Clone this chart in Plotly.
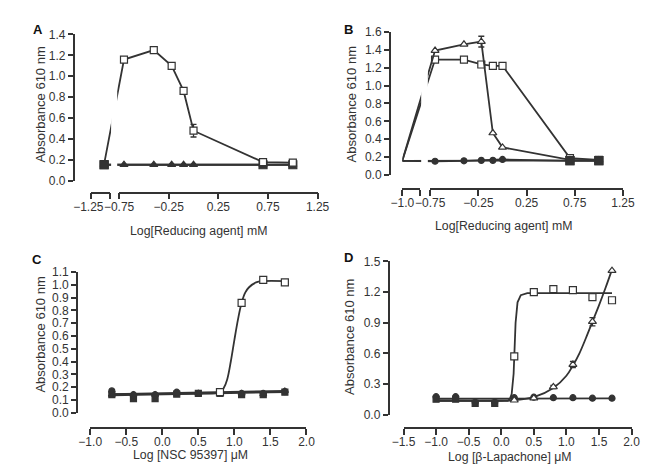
import plotly.graph_objects as go

W, H = 653, 474
INK = '#333333'
FONT = 'Liberation Sans, Arial, sans-serif'

# ---------------- data ----------------
# A: first value of each series is the untreated control (left, broken part of the axis)
a_x = [-0.90, -0.70, -0.40, -0.22, -0.10, 0.0, 0.70, 1.0]
a_sq = [0.16, 1.16, 1.25, 1.10, 0.86, 0.48, 0.18, 0.175]
a_sq_err = [0, 0, 0, 0, 0, 0.06, 0, 0]
a_tri = [0.155, 0.155, 0.155, 0.155, 0.155, 0.155, 0.155, 0.155]
a_fsq_x = [-0.90, 0.70, 1.0]
a_fsq = [0.155, 0.155, 0.155]

# B
b_x = [-1.04, -0.70, -0.40, -0.22, -0.10, 0.0, 0.70, 1.0]
b_tri = [0.16, 1.39, 1.46, 1.49, 0.47, 0.31, 0.17, 0.165]
b_tri_err = [0, 0, 0, 0.06, 0, 0, 0, 0]
b_sq = [0.16, 1.29, 1.29, 1.235, 1.22, 1.22, 0.19, 0.17]
b_circ = [0.16, 0.155, 0.16, 0.165, 0.165, 0.175, 0.16, 0.16]
b_fsq_x = [-1.04, 0.70, 1.0]
b_fsq = [0.16, 0.163, 0.163]

# C
c_x = [-0.7, -0.4, -0.1, 0.2, 0.5, 0.8, 1.1, 1.4, 1.7]
c_fsq = [0.14, 0.11, 0.11, 0.145, 0.15, 0.15, 0.14, 0.14, 0.16]
c_tri = [0.14, 0.14, 0.14, 0.15, 0.15, 0.15, 0.15, 0.145, 0.17]
c_circ = [0.17, 0.14, 0.14, 0.16, 0.15, 0.15, 0.15, 0.15, 0.165]
c_sq_x = [0.8, 1.1, 1.4, 1.7]
c_sq = [0.16, 0.86, 1.04, 1.02]
c_fit_x = [-0.7, 0.5, 0.8, 0.85, 0.9, 0.95, 1.0, 1.05, 1.1, 1.15, 1.2, 1.3, 1.4, 1.7]
c_fit_y = [0.145, 0.15, 0.16, 0.19, 0.26, 0.40, 0.57, 0.73, 0.86, 0.94, 0.98, 1.02, 1.03, 1.03]
c_flat_x = [-0.7, 1.7]
c_flat_y = [0.14, 0.165]

# D
d_x = [-1.0, -0.7, -0.4, -0.1, 0.2, 0.5, 0.8, 1.1, 1.4, 1.7]
d_circ = [0.175, 0.175, 0.12, 0.12, 0.165, 0.17, 0.165, 0.165, 0.16, 0.16]
d_fsq_x = [-1.0, -0.7, -0.4, -0.1]
d_fsq = [0.15, 0.15, 0.11, 0.11]
d_sq_x = [0.2, 0.5, 0.8, 1.1, 1.4, 1.7]
d_sq = [0.57, 1.20, 1.23, 1.22, 1.15, 1.12]
d_tri_x = [0.2, 0.5, 0.8, 1.1, 1.4, 1.7]
d_tri = [0.14, 0.16, 0.27, 0.49, 0.91, 1.41]
d_tri_err = [0, 0, 0.015, 0.03, 0.04, 0]
d_sqfit_x = [-1.0, 0.1, 0.13, 0.16, 0.19, 0.2, 0.22, 0.25, 0.3, 0.4, 1.7]
d_sqfit_y = [0.135, 0.135, 0.15, 0.2, 0.4, 0.57, 0.9, 1.1, 1.17, 1.19, 1.19]
d_trifit_x = [-1.0, 0.0, 0.2, 0.5, 0.8, 1.0, 1.1, 1.2, 1.3, 1.4, 1.5, 1.6, 1.7]
d_trifit_y = [0.135, 0.135, 0.14, 0.17, 0.26, 0.38, 0.48, 0.6, 0.75, 0.91, 1.07, 1.24, 1.42]
d_flat_x = [-1.0, 1.7]
d_flat_y = [0.155, 0.158]


def px(p):
    return p / W


def py(p):
    return 1 - p / H


fig = go.Figure()


def add(x, y, xa, ya, mode='lines+markers', symbol='square', fill=INK, size=7,
        lw=1.8, err=None, shape='linear'):
    fig.add_trace(go.Scatter(
        x=x, y=y, xaxis=xa, yaxis=ya, mode=mode, cliponaxis=False,
        line=dict(color=INK, width=lw, shape=shape),
        marker=dict(symbol=symbol, size=size, color=fill, line=dict(color=INK, width=1.2)),
        error_y=dict(type='data', array=err, color=INK, thickness=1.3, width=3) if err else None,
        showlegend=False, hoverinfo='skip'))


# A
add(a_x, a_tri, 'x', 'y', symbol='triangle-up', size=7)
add(a_fsq_x, a_fsq, 'x', 'y', symbol='square', size=8)
add(a_x, a_sq, 'x', 'y', symbol='square', fill='white', err=a_sq_err)
add(a_fsq_x[:1], a_fsq[:1], 'x', 'y', mode='markers', symbol='square', size=8)
# B
add(b_x, b_circ, 'x4', 'y2', symbol='circle', size=6)
add(b_fsq_x, b_fsq, 'x4', 'y2', symbol='square', size=8)
add(b_x, b_sq, 'x4', 'y2', symbol='square', fill='white')
add(b_x, b_tri, 'x4', 'y2', symbol='triangle-up', fill='white', err=b_tri_err)
add(b_fsq_x, b_fsq, 'x4', 'y2', mode='markers', symbol='square', size=8)
# C
add(c_flat_x, c_flat_y, 'x7', 'y3', mode='lines', lw=3)
add(c_fit_x, c_fit_y, 'x7', 'y3', mode='lines', shape='spline')
add(c_x, c_fsq, 'x7', 'y3', mode='markers', symbol='square', size=6)
add(c_x, c_tri, 'x7', 'y3', mode='markers', symbol='triangle-up', size=6)
add(c_x, c_circ, 'x7', 'y3', mode='markers', symbol='circle', size=6)
add(c_sq_x, c_sq, 'x7', 'y3', mode='markers', symbol='square', fill='white')
# D
add(d_flat_x, d_flat_y, 'x8', 'y4', mode='lines')
add(d_sqfit_x, d_sqfit_y, 'x8', 'y4', mode='lines')
add(d_trifit_x, d_trifit_y, 'x8', 'y4', mode='lines', shape='spline')
add(d_x, d_circ, 'x8', 'y4', mode='markers', symbol='circle', size=6)
add(d_fsq_x, d_fsq, 'x8', 'y4', mode='markers', symbol='square', size=6)
add(d_tri_x, d_tri, 'x8', 'y4', mode='markers', symbol='triangle-up', fill='white', err=d_tri_err)
add(d_sq_x, d_sq, 'x8', 'y4', mode='markers', symbol='square', fill='white')

# empty traces so the broken-axis pieces get drawn
for xa, ya in [('x2', 'y'), ('x3', 'y'), ('x5', 'y2'), ('x6', 'y2')]:
    fig.add_trace(go.Scatter(x=[], y=[], xaxis=xa, yaxis=ya, mode='none',
                             showlegend=False, hoverinfo='skip'))

tick = dict(family=FONT, size=12, color=INK)
axis_common = dict(showline=True, linecolor=INK, linewidth=1.6, ticks='outside',
                   ticklen=5, tickwidth=1.5, tickcolor=INK, tickfont=tick,
                   showgrid=False, zeroline=False, fixedrange=True)
x_common = dict(axis_common, ticklen=6, ticklabelstandoff=-3)


def data_range(d0, r0, d1, rng):
    scale = (rng[1] - rng[0]) / (d1 - r0)
    return [rng[0] - (r0 - d0) * scale, rng[1]]


layout = {}
# panel A / B broken axes
for (xd, xl, xr, ya, yname, l0, l1, r0, r1, axy, ylab_x, ytop, ybot, ymax, lab, shift) in [
        ('xaxis', 'xaxis2', 'xaxis3', 'y', 'yaxis', 68.5, 87.7, 97.5, 305.7, 183, 50, 20, 171, 1.4, '−1.25', -3),
        ('xaxis4', 'xaxis5', 'xaxis6', 'y2', 'yaxis2', 394.5, 413.3, 423.7, 625.7, 179.3, 381.3, 17.3, 165, 1.6, '−1.0', 0)]:
    rng_r = [-0.75, 1.25]
    layout[xd] = dict(domain=[px(l0), px(r1)], range=data_range(l0, r0, r1, rng_r),
                      anchor=ya, visible=False, fixedrange=True)
    layout[xl] = dict(x_common, domain=[px(l0), px(l1)], range=[-0.001, 1.001],
                      anchor='free', position=py(axy), tickvals=[0, 1], ticktext=[lab, ''],
                      ticklabelshift=shift)
    layout[xr] = dict(x_common, domain=[px(r0), px(r1)], range=[-0.7505, 1.2505],
                      anchor='free', position=py(axy), tickvals=[-0.75, -0.25, 0.25, 0.75, 1.25],
                      tickformat='.2f')
    layout[yname] = dict(axis_common, domain=[py(ybot), py(ytop)], range=[0, ymax],
                         anchor='free', position=px(ylab_x), dtick=0.2, tickformat='.1f')

# C
layout['xaxis7'] = dict(x_common, domain=[px(67.3), px(294)], range=[-1.0, 2.0],
                        anchor='free', position=py(425.7), dtick=0.5, tickformat='.1f')
layout['yaxis3'] = dict(axis_common, domain=[py(409.7), py(265)], range=[0, 1.1],
                        anchor='free', position=px(53.3), dtick=0.1, tickformat='.1f')
# D
layout['xaxis8'] = dict(x_common, domain=[px(395.7), px(634.7)], range=[-1.5, 2.0],
                        anchor='free', position=py(425.7), dtick=0.5, tickformat='.1f')
layout['yaxis4'] = dict(axis_common, domain=[py(411.7), py(254)], range=[0, 1.5],
                        anchor='free', position=px(380), dtick=0.3, tickformat='.1f')

annots = []
title_font = dict(family=FONT, size=12.3, color=INK)
for text, x, y in [('Log[Reducing agent] mM', 180.7, 223), ('Log[Reducing agent] mM', 501, 217),
                   ('Log [NSC 95397] μM', 172.3, 453), ('Log [β-Lapachone] μM', 507, 455)]:
    annots.append(dict(text=text, x=px(x), y=py(y), xref='paper', yref='paper',
                       xanchor='center', yanchor='middle', showarrow=False, font=title_font))
for x, y in [(15, 92), (341.3, 92.5), (15, 329), (339.7, 331.7)]:
    annots.append(dict(text='Absorbance 610 nm', x=px(x), y=py(y), xref='paper', yref='paper',
                       xanchor='center', yanchor='middle', showarrow=False, textangle=-90,
                       font=dict(family=FONT, size=13, color=INK)))
for text, x, y in [('A', 12.7, 15), ('B', 338, 15), ('C', 11.7, 252), ('D', 338, 250)]:
    annots.append(dict(text='<b>%s</b>' % text, x=px(x), y=py(y), xref='paper', yref='paper',
                       xanchor='center', yanchor='middle', showarrow=False,
                       font=dict(family=FONT, size=13, color='#111111')))

# white band for the axis breaks
shapes = [dict(type='rect', xref='paper', yref='paper', x0=px(89.2), x1=px(95.6),
               y0=py(174), y1=py(15), fillcolor='white', line=dict(width=0), layer='above'),
          dict(type='rect', xref='paper', yref='paper', x0=px(414.2), x1=px(421.2),
               y0=py(170), y1=py(12), fillcolor='white', line=dict(width=0), layer='above')]

fig.update_layout(layout)
fig.update_layout(width=W, height=H, margin=dict(l=0, r=0, t=0, b=0),
                  paper_bgcolor='white', plot_bgcolor='rgba(0,0,0,0)',
                  annotations=annots, shapes=shapes)

fig.write_html("out.html")
